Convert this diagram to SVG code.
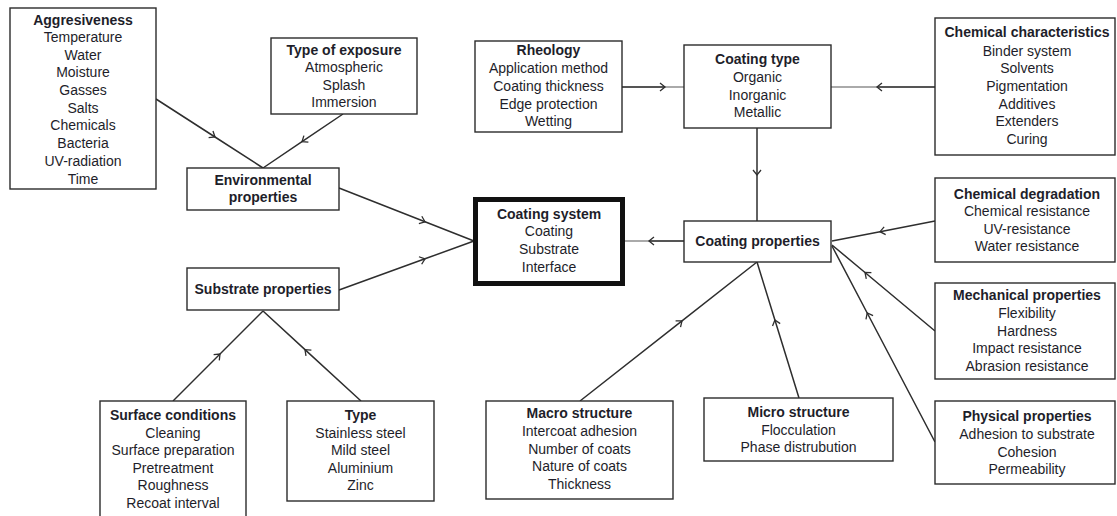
<svg xmlns="http://www.w3.org/2000/svg" width="1117" height="516" viewBox="0 0 1117 516">
<defs>
<style>
.box{fill:#fff;stroke:#2b2b2b;stroke-width:1.4}
.thick{fill:#fff;stroke:#111;stroke-width:5}
text{font-family:"Liberation Sans",Arial,sans-serif;font-size:14px;fill:#1e1e2a;text-anchor:middle}
.b{font-weight:bold}
.ln{fill:none;stroke:#2e2e2e;stroke-width:1.5;marker-mid:url(#chev)}
.gl{fill:none;stroke:#aaa;stroke-width:2}
.dl{fill:none;stroke:#555;stroke-width:2;marker-end:url(#chev)}
</style>
<marker id="chev" viewBox="-7 -5 8 10" markerWidth="8" markerHeight="10" refX="0" refY="0" orient="auto" markerUnits="userSpaceOnUse" overflow="visible">
<path d="M-5,-4 L0,0 L-5,4" fill="none" stroke="#2e2e2e" stroke-width="1.3"/>
</marker>
</defs>

<g id="connectors">
<polyline class="ln" points="156,99 215,137 263,168"/>
<polyline class="ln" points="343,114 302,141.7 263,168"/>
<polyline class="ln" points="339,188 425,221.8 474,241"/>
<polyline class="ln" points="339,290 425,258.8 474,241"/>
<polyline class="ln" points="173,401 220,354 263,311"/>
<polyline class="ln" points="361,401 305,349.6 263,311"/>
<line class="gl" x1="665" y1="87" x2="684" y2="87"/>
<path class="dl" d="M622,87 L665,87"/>
<line class="gl" x1="831" y1="87" x2="877" y2="87"/>
<path class="dl" d="M935,87 L877,87"/>
<polyline class="ln" points="757,128 757,175 757,221"/>
<line class="gl" x1="625" y1="241" x2="649" y2="241"/>
<path class="dl" d="M684,241 L649,241"/>
<polyline class="ln" points="935,221 880,231.7 832,241"/>
<polyline class="ln" points="935,331 865,272.5 832,245"/>
<polyline class="ln" points="935,442 867.2,313 832,246"/>
<polyline class="ln" points="580,401 682,320.9 757,262"/>
<polyline class="ln" points="799,398 774.9,320 757,262"/>
</g>

<g id="aggresiveness">
<rect class="box" x="10" y="8" width="146" height="181"/>
<text x="83" y="24.5" class="b">Aggresiveness</text>
<text x="83" y="42">Temperature</text>
<text x="83" y="59.5">Water</text>
<text x="83" y="77">Moisture</text>
<text x="83" y="95">Gasses</text>
<text x="83" y="112.5">Salts</text>
<text x="83" y="130">Chemicals</text>
<text x="83" y="147.5">Bacteria</text>
<text x="83" y="165.5">UV-radiation</text>
<text x="83" y="183.5">Time</text>
</g>

<g id="type-of-exposure">
<rect class="box" x="271" y="38" width="146" height="76"/>
<text x="344" y="55" class="b">Type of exposure</text>
<text x="344" y="72">Atmospheric</text>
<text x="344" y="89.5">Splash</text>
<text x="344" y="107">Immersion</text>
</g>

<g id="environmental-properties">
<rect class="box" x="187" y="168" width="152" height="42"/>
<text x="263" y="185" class="b">Environmental</text>
<text x="263" y="202" class="b">properties</text>
</g>

<g id="substrate-properties">
<rect class="box" x="187" y="268" width="152" height="42"/>
<text x="263" y="294" class="b">Substrate properties</text>
</g>

<g id="surface-conditions">
<rect class="box" x="100" y="401" width="146" height="125"/>
<text x="173" y="420" class="b">Surface conditions</text>
<text x="173" y="437.5">Cleaning</text>
<text x="173" y="455">Surface preparation</text>
<text x="173" y="472.5">Pretreatment</text>
<text x="173" y="490">Roughness</text>
<text x="173" y="508">Recoat interval</text>
</g>

<g id="type">
<rect class="box" x="287" y="401" width="147" height="100"/>
<text x="360.5" y="420" class="b">Type</text>
<text x="360.5" y="437.5">Stainless steel</text>
<text x="360.5" y="455">Mild steel</text>
<text x="360.5" y="472.5">Aluminium</text>
<text x="360.5" y="490">Zinc</text>
</g>

<g id="coating-system">
<rect class="thick" x="475.5" y="199.5" width="147" height="84"/>
<text x="549" y="218.5" class="b">Coating system</text>
<text x="549" y="236">Coating</text>
<text x="549" y="254">Substrate</text>
<text x="549" y="272">Interface</text>
</g>

<g id="rheology">
<rect class="box" x="475" y="41" width="147" height="91"/>
<text x="548.5" y="55" class="b">Rheology</text>
<text x="548.5" y="73">Application method</text>
<text x="548.5" y="91">Coating thickness</text>
<text x="548.5" y="108.5">Edge protection</text>
<text x="548.5" y="126">Wetting</text>
</g>

<g id="coating-type">
<rect class="box" x="684" y="45" width="147" height="83"/>
<text x="757.5" y="64" class="b">Coating type</text>
<text x="757.5" y="82">Organic</text>
<text x="757.5" y="99.5">Inorganic</text>
<text x="757.5" y="116.5">Metallic</text>
</g>

<g id="chemical-characteristics">
<rect class="box" x="935" y="18" width="180" height="137"/>
<text x="1027" y="37" class="b">Chemical characteristics</text>
<text x="1027" y="55.5">Binder system</text>
<text x="1027" y="73">Solvents</text>
<text x="1027" y="91">Pigmentation</text>
<text x="1027" y="108.5">Additives</text>
<text x="1027" y="126">Extenders</text>
<text x="1027" y="143.5">Curing</text>
</g>

<g id="coating-properties">
<rect class="box" x="684" y="221" width="147" height="41"/>
<text x="757.5" y="246" class="b">Coating properties</text>
</g>

<g id="chemical-degradation">
<rect class="box" x="935" y="178" width="180" height="84"/>
<text x="1027" y="198.5" class="b">Chemical degradation</text>
<text x="1027" y="216">Chemical resistance</text>
<text x="1027" y="234">UV-resistance</text>
<text x="1027" y="251">Water resistance</text>
</g>

<g id="mechanical-properties">
<rect class="box" x="935" y="283" width="180" height="96"/>
<text x="1027" y="300" class="b">Mechanical properties</text>
<text x="1027" y="318">Flexibility</text>
<text x="1027" y="335.5">Hardness</text>
<text x="1027" y="353">Impact resistance</text>
<text x="1027" y="370.5">Abrasion resistance</text>
</g>

<g id="physical-properties">
<rect class="box" x="935" y="401" width="180" height="83"/>
<text x="1027" y="421" class="b">Physical properties</text>
<text x="1027" y="439">Adhesion to substrate</text>
<text x="1027" y="456.5">Cohesion</text>
<text x="1027" y="473.5">Permeability</text>
</g>

<g id="macro-structure">
<rect class="box" x="486" y="401" width="187" height="98"/>
<text x="579.5" y="418" class="b">Macro structure</text>
<text x="579.5" y="436">Intercoat adhesion</text>
<text x="579.5" y="453.5">Number of coats</text>
<text x="579.5" y="471">Nature of coats</text>
<text x="579.5" y="488.5">Thickness</text>
</g>

<g id="micro-structure">
<rect class="box" x="704" y="398" width="189" height="63"/>
<text x="798.5" y="417" class="b">Micro structure</text>
<text x="798.5" y="434.5">Flocculation</text>
<text x="798.5" y="452">Phase distrubution</text>
</g>
</svg>
